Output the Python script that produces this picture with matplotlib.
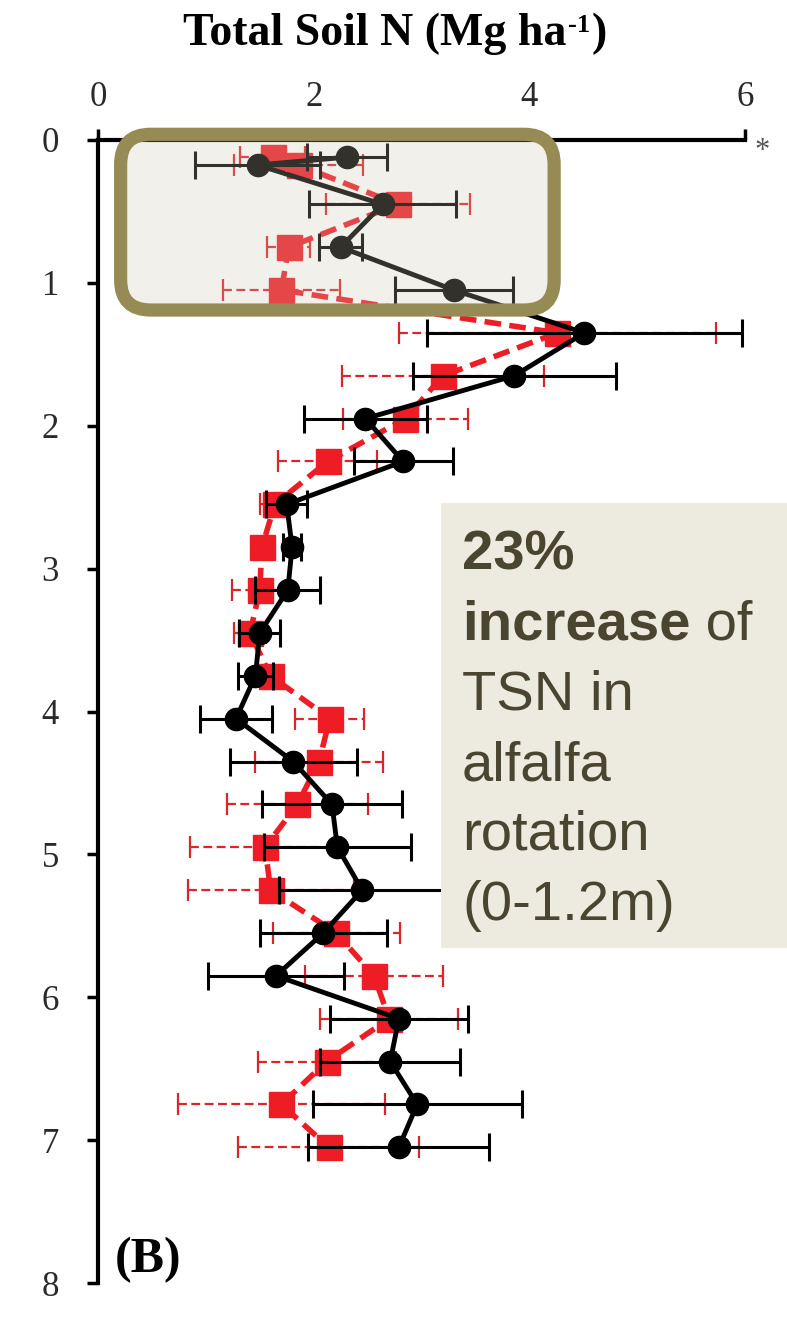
import matplotlib.pyplot as plt
from matplotlib.patches import FancyBboxPatch, Rectangle
from matplotlib.text import Annotation

plt.rcParams['font.family'] = 'Liberation Serif'

# depth (m) of each sample point
depth = [0.12, 0.175, 0.45, 0.75, 1.05, 1.35, 1.65, 1.95, 2.25, 2.55, 2.85,
         3.15, 3.45, 3.75, 4.05, 4.35, 4.65, 4.95, 5.25, 5.55, 5.85, 6.15,
         6.45, 6.75, 7.05]

# alfalfa rotation (black circles)
alfalfa_tsn = [2.31, 1.48, 2.64, 2.25, 3.30, 4.51, 3.86, 2.48, 2.83, 1.75, 1.80,
               1.76, 1.50, 1.46, 1.28, 1.81, 2.17, 2.22, 2.45, 2.09, 1.65, 2.79,
               2.71, 2.96, 2.79]
alfalfa_err = [0.37, 0.58, 0.68, 0.20, 0.55, 1.46, 0.94, 0.57, 0.46, 0.19, 0.08,
               0.30, 0.19, 0.16, 0.33, 0.59, 0.65, 0.68, 0.77, 0.59, 0.63, 0.64,
               0.65, 0.97, 0.84]

# no alfalfa (red squares)
other_tsn = [1.62, 1.86, 2.78, 1.77, 1.70, 4.26, 3.20, 2.85, 2.13, 1.64, 1.52,
             1.50, 1.41, 1.60, 2.15, 2.05, 1.85, 1.55, 1.60, 2.21, 2.56, 2.70,
             2.12, 1.70, 2.14]
other_err = [0.30, 0.60, 0.67, 0.20, 0.54, 1.47, 0.94, 0.58, 0.46, 0.14, 0.08,
             0.26, 0.15, 0.12, 0.32, 0.59, 0.65, 0.70, 0.77, 0.59, 0.64, 0.64,
             0.64, 0.96, 0.84]

x_ticks = [0, 2, 4, 6]
y_ticks = [0, 1, 2, 3, 4, 5, 6, 7, 8]

note_lines = ["23%", "increase", "TSN in", "alfalfa", "rotation", "(0-1.2m)"]

W, H = 787, 1344
fig = plt.figure(figsize=(W / 100, H / 100), dpi=100)


def fx(px):
    return px / W


def fy(py):
    return 1 - py / H


ax = fig.add_axes([fx(98), fy(1283), (745 - 98) / W, (1283 - 140) / H])
ax.set_xlim(0, 6)
ax.set_ylim(8, 0)
ax.xaxis.tick_top()
ax.set_xticks(x_ticks)
ax.set_yticks(y_ticks)
for s in ['right', 'bottom']:
    ax.spines[s].set_visible(False)
for s in ['top', 'left']:
    ax.spines[s].set_linewidth(3)
ax.tick_params(direction='out', length=8, width=2.5, labelsize=25,
               colors='black', labelcolor='#2a2a2a')
ax.tick_params(axis='x', pad=11)
ax.tick_params(axis='y', pad=20)

red = '#ee1c24'

# red series
eb = ax.errorbar(other_tsn, depth, xerr=other_err, fmt='none', ecolor='#d8262a',
                 elinewidth=1.6, capsize=8, capthick=1.6, zorder=2)
eb[2][0].set_linestyle((0, (4, 2)))
ax.plot(other_tsn, depth, color=red, lw=4, dashes=(3, 1.5), marker='s', ms=18,
        mec=red, mfc=red, zorder=3)

# black series
ax.errorbar(alfalfa_tsn, depth, xerr=alfalfa_err, fmt='none', ecolor='black',
            elinewidth=2.2, capsize=10, capthick=2.2, zorder=4)
ax.plot(alfalfa_tsn, depth, color='black', lw=3.5, marker='o', ms=16,
        mec='black', mfc='black', zorder=5)

# highlight box over 0-1.2 m
box = FancyBboxPatch((0.21, -0.04), 4.02, 1.23,
                     boxstyle='round,pad=0,rounding_size=0.28',
                     mutation_aspect=0.75,
                     fc=(203 / 255, 199 / 255, 179 / 255, 0.25),
                     ec='#968a55', lw=9.5, zorder=6, clip_on=False)
ax.add_patch(box)

# title
t1 = fig.text(fx(183), fy(45), "Total Soil N (Mg ha", fontsize=33,
              fontweight='bold', va='baseline', ha='left')
t2 = Annotation("-1", xy=(1, 0), xycoords=t1, xytext=(1, 13),
                textcoords='offset points', fontsize=19, fontweight='bold',
                va='bottom', ha='left', annotation_clip=False)
fig.add_artist(t2)
t3 = Annotation(")", xy=(1, 0), xycoords=t2, xytext=(1, -13),
                textcoords='offset points', fontsize=33, fontweight='bold',
                va='bottom', ha='left', annotation_clip=False)
fig.add_artist(t3)

fig.text(fx(762), fy(152), "*", fontsize=22, color='#555555',
         ha='center', va='center')
fig.text(fx(115), fy(1272), "(B)", fontsize=36, fontweight='bold',
         ha='left', va='baseline')

# note box
note_bg = Rectangle((fx(441), fy(948)), (W - 441) / W, (948 - 503) / H,
                    transform=fig.transFigure, fc='#edeae0', ec='none', zorder=10)
fig.add_artist(note_bg)

txt_col = '#4a4530'
for i, line in enumerate(note_lines):
    y = fy(570 + 70 * i)
    bold = i < 2
    t = fig.text(fx(462), y, line, fontsize=40.5, family='Liberation Sans',
                 fontweight='bold' if bold else 'normal', color=txt_col,
                 ha='left', va='baseline', zorder=11)
    if i == 1:
        of = Annotation(" of", xy=(1, 0), xycoords=t, xytext=(0, 0),
                        textcoords='offset points', fontsize=40.5,
                        family='Liberation Sans', color=txt_col, va='bottom',
                        ha='left', zorder=12, annotation_clip=False)
        fig.add_artist(of)

fig.savefig('out.png', dpi=100)
